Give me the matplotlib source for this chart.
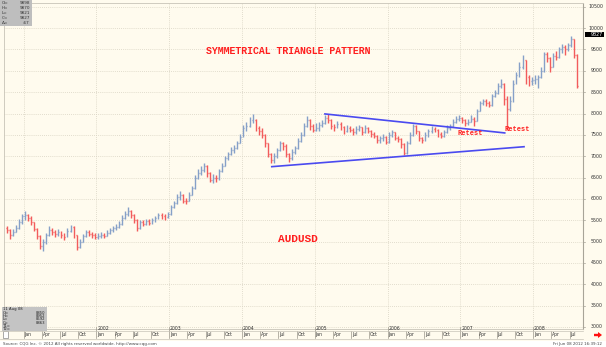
import matplotlib
matplotlib.use('Agg')
import matplotlib.pyplot as plt
import matplotlib.transforms as mtrans
from matplotlib.collections import LineCollection
from matplotlib.patches import Rectangle, Polygon

# ---------------- data (semi-monthly OHLC bars, AUDUSD x10000) ----------------
first_bar_year = 2000.75          # Oct 2000, first half
open_first = 5330

c2000 = [5280, 5150, 5230, 5320, 5450, 5600]
h2000 = [5360, 5300, 5290, 5380, 5520, 5650]
l2000 = [5200, 5060, 5120, 5220, 5300, 5420]

c2001 = [5620, 5560, 5450, 5300, 5120, 4900, 4980, 5150, 5280, 5220, 5180, 5230,
         5150, 5100, 5250, 5340, 5150, 4880, 5000, 5120, 5220, 5180, 5150, 5110]
h2001 = [5720, 5650, 5600, 5470, 5320, 5150, 5050, 5200, 5360, 5330, 5270, 5300,
         5250, 5200, 5320, 5400, 5360, 5150, 5060, 5170, 5280, 5260, 5230, 5200]
l2001 = [5500, 5480, 5400, 5250, 5050, 4820, 4780, 4950, 5120, 5150, 5100, 5130,
         5080, 5040, 5100, 5220, 5080, 4800, 4850, 4980, 5100, 5120, 5080, 5050]

c2002 = [5120, 5160, 5140, 5200, 5260, 5320, 5350, 5420, 5550, 5650, 5720, 5620,
         5500, 5330, 5450, 5420, 5480, 5440, 5500, 5560, 5620, 5600, 5580, 5640]
h2002 = [5200, 5220, 5200, 5260, 5320, 5370, 5410, 5480, 5620, 5720, 5800, 5740,
         5650, 5520, 5500, 5500, 5540, 5520, 5560, 5600, 5680, 5670, 5640, 5700]
l2002 = [5050, 5080, 5080, 5120, 5180, 5230, 5280, 5330, 5400, 5520, 5600, 5560,
         5440, 5250, 5300, 5360, 5400, 5380, 5420, 5470, 5530, 5540, 5510, 5560]

c2003 = [5800, 5900, 6050, 6100, 5960, 5950, 6100, 6250, 6500, 6600, 6680, 6780,
         6600, 6450, 6500, 6480, 6650, 6780, 6950, 7050, 7150, 7200, 7300, 7450]
h2003 = [5850, 5960, 6120, 6180, 6120, 6030, 6160, 6300, 6560, 6700, 6760, 6850,
         6800, 6620, 6580, 6560, 6700, 6840, 7000, 7100, 7220, 7260, 7360, 7520]
l2003 = [5620, 5780, 5880, 5980, 5900, 5880, 5940, 6080, 6240, 6460, 6560, 6640,
         6520, 6400, 6380, 6400, 6450, 6620, 6780, 6920, 7020, 7080, 7160, 7300]

c2004 = [7650, 7700, 7850, 7850, 7650, 7600, 7500, 7300, 7050, 6900, 7000, 7150,
         7300, 7250, 7050, 6950, 7100, 7200, 7350, 7500, 7700, 7850, 7700, 7620]
h2004 = [7730, 7800, 7920, 7990, 7880, 7700, 7650, 7520, 7320, 7080, 7080, 7200,
         7350, 7330, 7280, 7080, 7160, 7250, 7420, 7560, 7780, 7930, 7880, 7750]
l2004 = [7450, 7600, 7680, 7780, 7580, 7500, 7420, 7220, 6980, 6840, 6850, 6950,
         7120, 7150, 6980, 6860, 6920, 7050, 7180, 7330, 7480, 7680, 7620, 7560]

c2005 = [7650, 7720, 7780, 7900, 7850, 7700, 7680, 7750, 7680, 7580, 7650, 7620,
         7560, 7640, 7680, 7560, 7650, 7600, 7520, 7480, 7380, 7420, 7460, 7340]
h2005 = [7780, 7800, 7850, 7960, 7990, 7880, 7760, 7820, 7800, 7700, 7720, 7700,
         7660, 7700, 7740, 7690, 7720, 7680, 7620, 7560, 7500, 7480, 7520, 7480]
l2005 = [7580, 7600, 7680, 7760, 7780, 7640, 7600, 7660, 7620, 7520, 7560, 7560,
         7500, 7520, 7600, 7500, 7540, 7540, 7460, 7420, 7320, 7320, 7360, 7290]

c2006 = [7500, 7560, 7420, 7400, 7280, 7080, 7300, 7500, 7700, 7580, 7420, 7380,
         7500, 7580, 7640, 7620, 7520, 7480, 7560, 7660, 7700, 7800, 7880, 7900]
h2006 = [7560, 7620, 7570, 7480, 7420, 7300, 7360, 7560, 7760, 7740, 7600, 7460,
         7560, 7630, 7700, 7680, 7640, 7560, 7620, 7720, 7760, 7860, 7940, 7960]
l2006 = [7320, 7460, 7380, 7340, 7200, 7020, 7060, 7280, 7480, 7520, 7360, 7300,
         7360, 7460, 7540, 7560, 7460, 7420, 7460, 7540, 7620, 7680, 7780, 7820]

c2007 = [7850, 7780, 7800, 7880, 7820, 8050, 8250, 8300, 8250, 8200, 8400, 8480,
         8650, 8700, 8350, 8100, 8300, 8700, 8900, 9100, 9250, 8850, 8750, 8780]
h2007 = [7920, 7880, 7860, 7960, 7920, 8100, 8300, 8350, 8340, 8300, 8450, 8540,
         8720, 8800, 8720, 8400, 8400, 8780, 8980, 9200, 9380, 9250, 8900, 8850]
l2007 = [7780, 7700, 7720, 7800, 7700, 7820, 8050, 8200, 8180, 8150, 8180, 8380,
         8460, 8600, 8200, 7620, 8050, 8280, 8680, 8850, 9050, 8700, 8650, 8660]

c2008 = [8800, 8850, 9000, 9400, 9300, 9100, 9350, 9320, 9500, 9550, 9500, 9600,
         9750, 9380, 8650]
h2008 = [8900, 8900, 9080, 9450, 9450, 9320, 9420, 9460, 9560, 9620, 9600, 9660,
         9820, 9750, 9400]
l2008 = [8680, 8600, 8820, 8980, 9200, 8970, 9080, 9250, 9300, 9420, 9380, 9460,
         9550, 9300, 8600]

# triangle trend lines (date as fractional year, price)
upper_dates = [2005.14, 2007.61]
upper_prices = [7990, 7545]
lower_dates = [2004.41, 2007.875]
lower_prices = [6755, 7222]

price_ticks = [3000, 3500, 4000, 4500, 5000, 5500, 6000, 6500, 7000, 7500,
               8000, 8500, 9000, 9500, 10000, 10500]
years = [2001, 2002, 2003, 2004, 2005, 2006, 2007, 2008]
month_names = ['Jan', 'Apr', 'Jul', 'Oct']

# ---------------- assemble ----------------
closes = c2000 + c2001 + c2002 + c2003 + c2004 + c2005 + c2006 + c2007 + c2008
highs = h2000 + h2001 + h2002 + h2003 + h2004 + h2005 + h2006 + h2007 + h2008
lows = l2000 + l2001 + l2002 + l2003 + l2004 + l2005 + l2006 + l2007 + l2008
opens = [open_first] + closes[:-1]
dates = [first_bar_year + (i + 0.5) / 24 for i in range(len(closes))]

W, Hh = 606, 347
cream = '#FFFBEE'
up_col = '#86A0C8'
dn_col = '#F25C5C'
grid_col = '#D8D3C3'

fig = plt.figure(figsize=(W / 100, Hh / 100), dpi=100, facecolor='white')
fig.add_artist(Rectangle((0, 1 - 341 / Hh), 1, 341 / Hh, transform=fig.transFigure,
                         facecolor=cream, edgecolor='none', zorder=-5))

ax = fig.add_axes([4 / W, 1 - 329 / Hh, 579 / W, 326 / Hh])
ax.set_facecolor(cream)
ax.set_xlim(2000.732, 2008.685)
ax.set_ylim(2953, 10588)
for s in ['top', 'left', 'bottom']:
    ax.spines[s].set_color('#C8C4B8')
    ax.spines[s].set_linewidth(0.6)
ax.spines['right'].set_color('#A8A498')
ax.spines['right'].set_linestyle((0, (1, 1)))
ax.spines['right'].set_linewidth(0.8)
ax.set_xticks([])
ax.set_yticks([])

for p in price_ticks:
    ax.axhline(p, color=grid_col, lw=0.6, ls=(0, (1, 1.5)), zorder=1)
for y in years:
    ax.axvline(y, color=grid_col, lw=0.6, ls=(0, (1, 1.5)), zorder=1)

# OHLC bars
tick = 0.3 / 24
segs_up, segs_dn = [], []
for t, o, h, l, c in zip(dates, opens, highs, lows, closes):
    sg = [[(t, l), (t, h)], [(t - tick, o), (t, o)], [(t, c), (t + tick, c)]]
    (segs_up if c >= o else segs_dn).extend(sg)
ax.add_collection(LineCollection(segs_up, colors=up_col, linewidths=1.0, zorder=3))
ax.add_collection(LineCollection(segs_dn, colors=dn_col, linewidths=1.0, zorder=3))

ax.plot(upper_dates, upper_prices, color='#4A4AF0', lw=1.2, zorder=4)
ax.plot(lower_dates, lower_prices, color='#4A4AF0', lw=1.2, zorder=4)

ax.text(2004.633, 9470, 'SYMMETRICAL TRIANGLE PATTERN', color='#FF1E1E',
        family='Liberation Mono', fontweight='bold', fontsize=7.1,
        ha='center', va='center', zorder=5)
ax.text(2004.77, 5061, 'AUDUSD', color='#FF1E1E', family='Liberation Mono',
        fontweight='bold', fontsize=8, ha='center', va='center', zorder=5)
ax.text(2007.135, 7535, 'Retest', color='#FF1E1E', family='Liberation Mono',
        fontweight='bold', fontsize=5, ha='center', va='center', zorder=5)
ax.text(2007.78, 7630, 'Retest', color='#FF1E1E', family='Liberation Mono',
        fontweight='bold', fontsize=5, ha='center', va='center', zorder=5)

# ---------------- overlay in pixel coordinates ----------------
ov = fig.add_axes([0, 0, 1, 1], zorder=10)
ov.set_xlim(0, W)
ov.set_ylim(Hh, 0)
ov.axis('off')
ov.patch.set_alpha(0)

# price labels on the right
ytrans = mtrans.blended_transform_factory(ov.transData, ax.transData)
for p in price_ticks:
    ov.text(603, p, str(p), transform=ytrans, fontsize=3.4, color='#333333',
            ha='right', va='center')
    ov.plot([583, 585], [p, p], transform=ytrans, color='#A8A498', lw=0.5)
# last price box
ov.add_patch(Rectangle((585, 31.5), 19, 5, facecolor='black', edgecolor='none'))
ov.text(603, 34, '9827', fontsize=3.4, color='white', ha='right', va='center')

# time axis strip
xtrans = mtrans.blended_transform_factory(ax.transData, ov.transData)
for y in years:
    for mi, mname in enumerate(month_names):
        t = y + mi * 3 / 12
        if t > 2008.6:
            continue
        ov.plot([t, t], [331, 338], transform=xtrans, color='#9A968A', lw=0.5)
        ov.text(t + 0.012, 334.5, mname, transform=xtrans, fontsize=3.3,
                color='#333333', ha='left', va='center')
    if y > 2001:
        ov.plot([y, y], [327, 331], transform=xtrans, color='#9A968A', lw=0.5)
        ov.text(y + 0.012, 328.8, str(y), transform=xtrans, fontsize=3.3,
                color='#333333', ha='left', va='center')
ov.plot([0, 583], [330.5, 330.5], color='#C8C4B8', lw=0.5)
ov.plot([0, 583], [338.5, 338.5], color='#C8C4B8', lw=0.5)

# info boxes
ov.add_patch(Rectangle((0, 0), 32, 26, facecolor='#BEBEBE', edgecolor='none'))
for i, (k, v) in enumerate([('O=', '9898'), ('H=', '9870'), ('L=', '9821'),
                            ('C=', '9827'), ('\u0394=', '-67')]):
    ov.text(1.5, 3 + i * 5, k, fontsize=3, color='#333333', va='center')
    ov.text(30, 3 + i * 5, v, fontsize=3, color='#333333', va='center', ha='right')

ov.add_patch(Rectangle((2, 307), 45, 24, facecolor='#C4C4C4', edgecolor='none'))
rows = [('11 Aug 08', ''), ('O=', '8850'), ('H=', '8952'), ('L=', '8592'),
        ('C=', '8863'), ('T1=', ''), ('T2=', '')]
for i, (k, v) in enumerate(rows):
    ov.text(3, 309.3 + i * 3.35, k, fontsize=2.7, color='#222222', va='center')
    if v:
        ov.text(45, 309.3 + i * 3.35, v, fontsize=2.7, color='#222222',
                va='center', ha='right')
ov.add_patch(Rectangle((2.5, 331), 5, 7, facecolor='white', edgecolor='#888888', lw=0.5))

# arrow and footer
ov.add_patch(Polygon([[594, 333.8], [598, 333.8], [598, 332], [602, 335],
                      [598, 338], [598, 336.2], [594, 336.2]],
                     closed=True, facecolor='#FF1010', edgecolor='none'))
ov.text(3, 343.5, 'Source: CQG Inc. \u00a9 2012 All rights reserved worldwide. http://www.cqg.com',
        fontsize=2.9, color='#444444', va='center', ha='left')
ov.text(602, 344, 'Fri Jun 08 2012 16:39:12', fontsize=2.9, color='#444444',
        va='center', ha='right')

fig.savefig('out.png', dpi=100, facecolor='white')
